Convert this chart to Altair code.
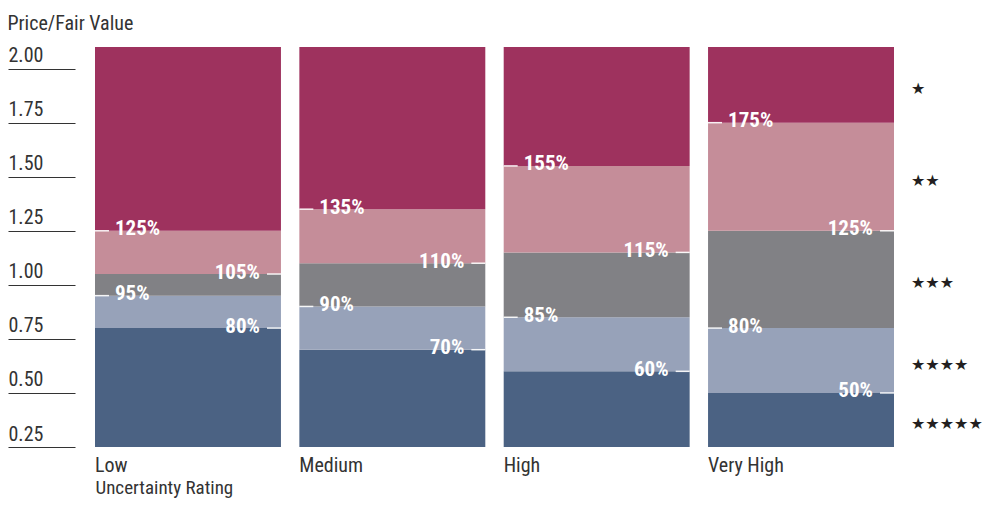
import altair as alt
import pandas as pd

# ---- data ----
categories = ["Low", "Medium", "High", "Very High"]
# upper boundaries of the lower four bands (price / fair value)
low_bounds = [0.80, 0.95, 1.05, 1.25]
medium_bounds = [0.70, 0.90, 1.10, 1.35]
high_bounds = [0.60, 0.85, 1.15, 1.55]
very_high_bounds = [0.50, 0.80, 1.25, 1.75]
label_side = ["right", "left", "right", "left"]
star_labels = ["★★★★★", "★★★★", "★★★", "★★", "★"]
y_min, y_max = 0.25, 2.10
y_ticks = [0.25, 0.50, 0.75, 1.00, 1.25, 1.50, 1.75, 2.00]
band_colors = ["#4b6283", "#97a2b9", "#818185", "#c58d99", "#9e325e"]

FONT = "Liberation Sans Narrow, Roboto Condensed, DejaVu Sans Condensed, sans-serif"

all_bounds = [low_bounds, medium_bounds, high_bounds, very_high_bounds]

seg_rows, lab_rows, star_rows = [], [], []
for cat, bounds in zip(categories, all_bounds):
    edges = [y_min] + bounds + [y_max]
    for i in range(5):
        seg_rows.append({"category": cat, "band": i, "y": edges[i], "y2": edges[i + 1]})
    for i, b in enumerate(bounds):
        lab_rows.append({"category": cat, "value": b, "side": label_side[i]})
vh_edges = [y_min] + very_high_bounds + [y_max]
for i, s in enumerate(star_labels):
    star_rows.append({"category": "Very High", "mid": (vh_edges[i] + vh_edges[i + 1]) / 2, "stars": s})

seg = pd.DataFrame(seg_rows)
lab = pd.DataFrame(lab_rows)
stars = pd.DataFrame(star_rows)

yscale = alt.Scale(domain=[y_min, y_max], nice=False, zero=False)
xscale = alt.Scale(domain=categories, paddingInner=0.09, paddingOuter=0)

bars = alt.Chart(seg).mark_bar(strokeWidth=0).encode(
    x=alt.X("category:N", scale=xscale, sort=categories,
            axis=alt.Axis(title="Uncertainty Rating", domain=False, ticks=False,
                          labelAlign="left", labelOffset=-93, labelPadding=8,
                          labelFontSize=20, labelFont=FONT, labelColor="#333",
                          labelAngle=0,
                          titleAnchor="start", titleAlign="left", titleFontSize=19,
                          titleFont=FONT, titleFontWeight="normal", titleColor="#333",
                          titlePadding=3)),
    y=alt.Y("y:Q", scale=yscale,
            axis=alt.Axis(title=None, values=y_ticks, format=".2f", domain=False,
                          grid=False, tickSize=67, tickColor="#333", tickWidth=1.2,
                          offset=20, labelAlign="left", labelPadding=0,
                          labelBaseline="alphabetic", labelOffset=-7,
                          labelFontSize=20, labelFont=FONT, labelColor="#333")),
    y2="y2:Q",
    color=alt.Color("band:O", scale=alt.Scale(domain=[0, 1, 2, 3, 4], range=band_colors), legend=None),
)

left = lab[lab.side == "left"]
right = lab[lab.side == "right"]

ticks_left = alt.Chart(left).mark_tick(orient="horizontal", size=14, thickness=1.5,
                                       color="white", opacity=0.9, xOffset=-86).encode(
    x=alt.X("category:N", sort=categories),
    y=alt.Y("value:Q"),
)
ticks_right = alt.Chart(right).mark_tick(orient="horizontal", size=14, thickness=1.5,
                                         color="white", opacity=0.9, xOffset=86).encode(
    x=alt.X("category:N", sort=categories),
    y=alt.Y("value:Q"),
)
text_left = alt.Chart(left).mark_text(align="left", baseline="middle", dx=20, dy=-1.5,
                                      font=FONT, fontSize=21, fontWeight="bold", color="white").encode(
    x=alt.X("category:N", bandPosition=0, sort=categories),
    y=alt.Y("value:Q"),
    text=alt.Text("value:Q", format=".0%"),
)
text_right = alt.Chart(right).mark_text(align="right", baseline="middle", dx=-21, dy=-1.5,
                                        font=FONT, fontSize=21, fontWeight="bold", color="white").encode(
    x=alt.X("category:N", bandPosition=1, sort=categories),
    y=alt.Y("value:Q"),
    text=alt.Text("value:Q", format=".0%"),
)
star_text = alt.Chart(stars).mark_text(align="left", baseline="middle", dx=17, dy=4,
                                       font="DejaVu Sans", fontSize=16, color="#231f20").encode(
    x=alt.X("category:N", bandPosition=1, sort=categories),
    y=alt.Y("mid:Q"),
    text="stars:N",
)

chart = alt.layer(bars, ticks_left, ticks_right, text_left, text_right, star_text).properties(
    width=799, height=400,
    autosize=alt.AutoSizeParams(type="none"),
    padding={"left": 87, "top": 39, "right": 88, "bottom": 53},
    title=alt.TitleParams("Price/Fair Value", anchor="start", frame="bounds", fontSize=20,
                          font=FONT, fontWeight="normal", color="#333", offset=12),
).configure_view(stroke=None)

chart.save("out.html", embed_options={"renderer": "svg", "actions": False})
